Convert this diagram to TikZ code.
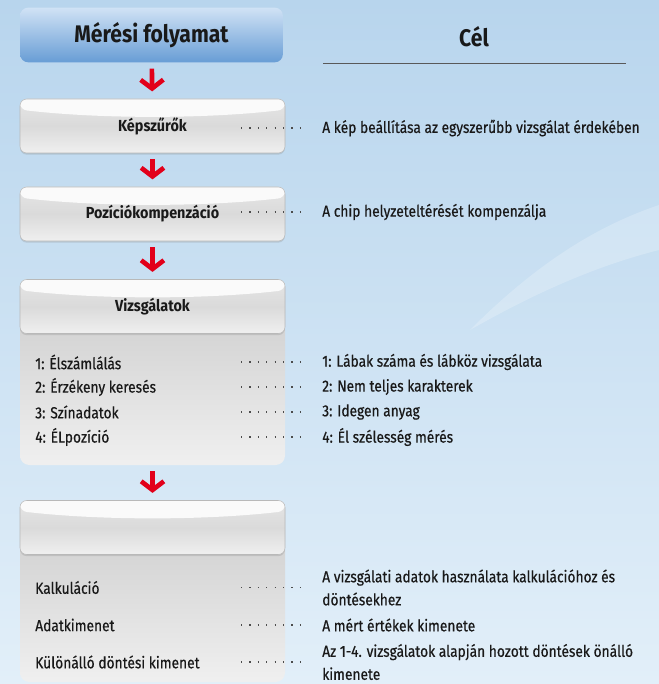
\documentclass[tikz,border=0pt]{standalone}
\usepackage{fontspec}
\setmainfont{Fira Sans}[FakeStretch=0.86,FakeBold=0.5]
\newfontfamily\titlefont{Fira Sans}[FakeStretch=0.88]
\newfontfamily\boxfont{Fira Sans}[FakeStretch=0.9]
\usetikzlibrary{arrows.meta,shadows}
\definecolor{bgtop}{RGB}{184,213,237}
\definecolor{bgbot}{RGB}{226,239,249}
\definecolor{headtop}{RGB}{208,226,245}
\definecolor{headbot}{RGB}{104,157,213}
\definecolor{flowred}{RGB}{226,0,26}
\definecolor{ink}{RGB}{25,25,25}
\begin{document}
\begin{tikzpicture}[x=0.75pt,y=-0.75pt,
    every node/.style={text=ink},
    headbox/.style={rounded corners=6pt,minimum width=197pt,minimum height=41pt,
      top color=headtop,bottom color=headbot,
      font=\titlefont\bfseries\fontsize{18}{20}\selectfont},
    stepbox/.style={rounded corners=5pt,minimum width=198.75pt,minimum height=40.5pt,
      draw=gray!55,top color=gray!20,bottom color=gray!12,middle color=gray!29,
      drop shadow={opacity=0.25,shadow xshift=0pt,shadow yshift=-1.2pt},
      font=\boxfont\bfseries\fontsize{12}{14}\selectfont,
      path picture={
        \fill[white!96!gray] (path picture bounding box.north west)
          -- ([yshift=-8pt]path picture bounding box.north west)
          .. controls ([xshift=60pt,yshift=-15pt]path picture bounding box.north west)
          and ([xshift=-60pt,yshift=-15pt]path picture bounding box.north east)
          .. ([yshift=-8pt]path picture bounding box.north east)
          -- (path picture bounding box.north east) -- cycle;}},
    panel/.style={rounded corners=7pt,top color=gray!35,bottom color=gray!12},
    item/.style={anchor=west,inner sep=0pt,font=\fontsize{12}{17}\selectfont},
    goal/.style={anchor=west,inner sep=0pt,align=left,font=\fontsize{12}{17.25}\selectfont},
    dots/.style={gray!60!black,line width=0.9pt,dash pattern=on 0.9pt off 5.4pt,shorten >=10.5pt},
    flow/.style={flowred,line width=3.5pt,-{Straight Barb[length=6.5pt,width=17pt]},
      shorten <=4.5pt,shorten >=5.5pt}]

  \useasboundingbox (0,0) rectangle (659,684);
  \shade[top color=bgtop,bottom color=bgbot] (0,0) rectangle (659,684);
  \fill[white,opacity=0.22] (470,330) .. controls (540,260) and (600,225) .. (659,205)
    -- (659,250) .. controls (600,265) and (540,290) .. (470,330);

  % headings
  \node[headbox] (head) at (151.5,35) {Mérési folyamat};
  \node[font=\titlefont\bfseries\fontsize{18}{20}\selectfont] (goalhead) at (474,37) {Cél};
  \coordinate (rulel) at (323,63);
  \coordinate (ruler) at (626,63);
  \draw[gray!70!black,line width=0.7pt] (rulel) -- (ruler);

  % panels below the last two steps
  \path[panel] (20,320) rectangle (285,465);
  \path[panel] (20,540) rectangle (285,682);

  % steps
  \node[stepbox] (step1) at (152.5,126) {Képszűrők};
  \node[stepbox] (step2) at (152.5,214) {Pozíciókompenzáció};
  \node[stepbox] (step3) at (152.5,306.5) {Vizsgálatok};
  \node[stepbox] (step4) at (152.5,527.5) {};

  \draw[flow] (head) -- (step1);
  \draw[flow] (step1) -- (step2);
  \draw[flow] (step2) -- (step3);
  \coordinate (panel1) at (152.5,465);
  \draw[flow] (panel1) -- (step4);

  % goals of the first two steps
  \node[goal] (goalA) at (322,128) {A kép beállítása az egyszerűbb vizsgálat érdekében};
  \node[goal] (goalB) at (322,212) {A chip helyzeteltérését kompenzálja};
  \coordinate (dotA) at (241,128);
  \coordinate (dotB) at (241,212);
  \draw[dots] (dotA) -- (goalA.west);
  \draw[dots] (dotB) -- (goalB.west);

  % tests
  \foreach \txt/\aim [count=\i] in {1: Élszámlálás/1: Lábak száma és lábköz vizsgálata,
      2: Érzékeny keresés/2: Nem teljes karakterek,
      3: Színadatok/3: Idegen anyag,
      4: ÉLpozíció/4: Él szélesség mérés}{
    \pgfmathsetmacro{\ypos}{337+25*\i}
    \node[item] (test\i) at (35,\ypos) {\txt};
    \node[goal] (aim\i) at (322,\ypos) {\aim};
    \coordinate (dot\i) at (241,\ypos);
    \draw[dots] (dot\i) -- (aim\i.west);
  }

  % outputs
  \foreach \txt/\aim/\ypos [count=\i] in {Kalkuláció/{A vizsgálati adatok használata kalkulációhoz és\\döntésekhez}/587.5,
      Adatkimenet/{A mért értékek kimenete}/625,
      Különálló döntési kimenet/{Az 1-4. vizsgálatok alapján hozott döntések önálló\\kimenete}/662}{
    \node[item] (out\i) at (35,\ypos) {\txt};
    \node[goal] (use\i) at (322,\ypos) {\aim};
    \coordinate (odot\i) at (241,\ypos);
    \draw[dots] (odot\i) -- (use\i.west);
  }
\end{tikzpicture}
\end{document}
